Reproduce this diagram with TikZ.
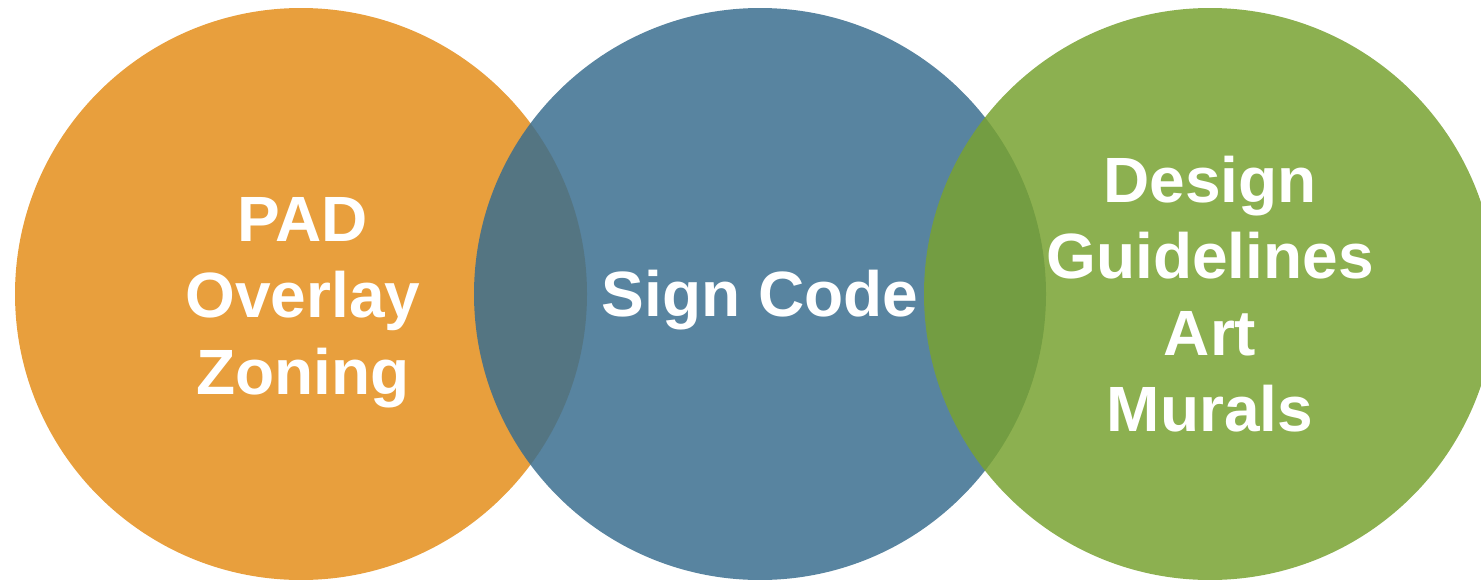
\documentclass[tikz,border=0pt]{standalone}
\usepackage{fontspec}
\setmainfont{Liberation Sans}
\definecolor{orangec}{RGB}{232,159,61}
\definecolor{bluec}{RGB}{59,110,143}
\definecolor{greenc}{RGB}{120,162,49}
\begin{document}
\begin{tikzpicture}[x=1pt,y=-1pt,
  disc/.style={circle,minimum size=572pt,inner sep=0pt,draw=none},
  lbl/.style={text=white,font=\fontsize{64}{78}\selectfont\bfseries,anchor=base,inner sep=0pt}]
\useasboundingbox (0,0) rectangle (1481,579);
\begin{scope}
\clip (0,0) rectangle (1481,579);
\node[disc,fill=orangec] (orange) at (301,294) {};
\node[disc,fill=bluec,fill opacity=0.85] (blue) at (760,294) {};
\node[disc,fill=greenc,fill opacity=0.85] (green) at (1210,294) {};
\end{scope}
\node[lbl] (pad) at (303,241) {PAD};
\node[lbl] (overlay) at (303,317) {Overlay};
\node[lbl] (zoning) at (303,394) {Zoning};
\node[lbl] (sign) at (760,316) {Sign Code};
\node[lbl] (design) at (1210,202) {Design};
\node[lbl] (guide) at (1210,278) {Guidelines};
\node[lbl] (art) at (1210,355) {Art};
\node[lbl] (murals) at (1210,431) {Murals};
\end{tikzpicture}
\end{document}
